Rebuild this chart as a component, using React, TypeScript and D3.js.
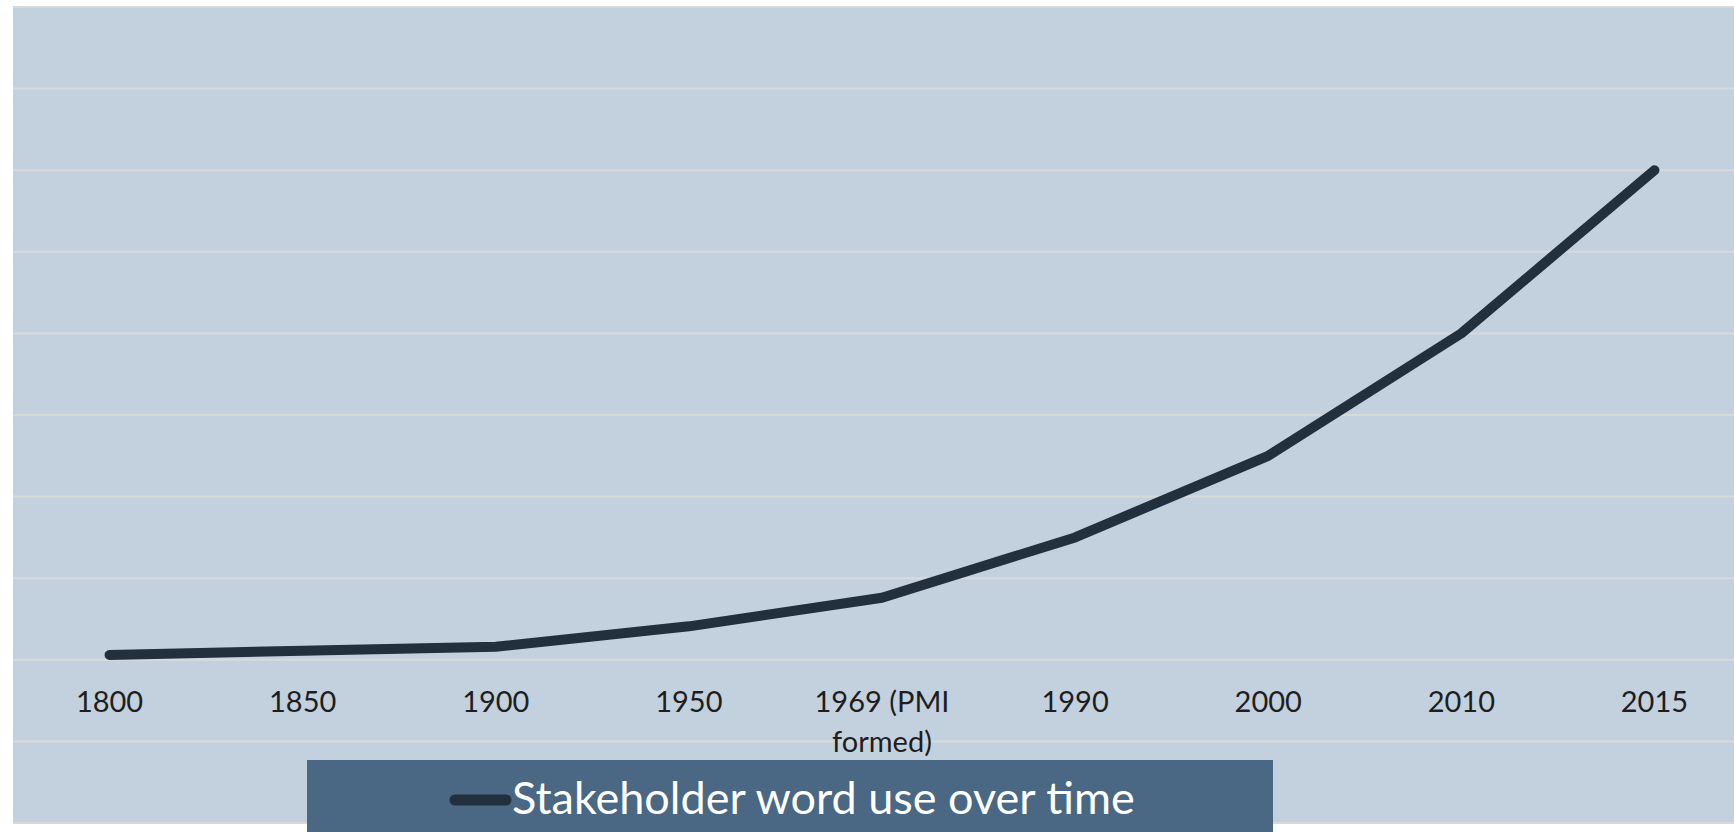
import React, { useEffect, useRef } from 'react';
import * as d3 from 'd3';

// categories on the x axis (one label is split on two lines)
const years = ['1800', '1850', '1900', '1950', '1969 (PMI formed)', '1990', '2000', '2010', '2015'];
const labelLines = [['1800'], ['1850'], ['1900'], ['1950'], ['1969 (PMI', 'formed)'], ['1990'], ['2000'], ['2010'], ['2015']];
// word use in gridline units
const wordUse = [0.06, 0.11, 0.16, 0.41, 0.76, 1.5, 2.5, 4.0, 6.0];
const gridValues = [-2, -1, 0, 1, 2, 3, 4, 5, 6, 7, 8];
const seriesName = 'Stakeholder word use over time';

export default function App() {
  const ref = useRef<SVGSVGElement>(null);

  useEffect(() => {
    const width = 1734,
      height = 832;
    const svg = d3.select(ref.current);
    svg.selectAll('*').remove();

    const x = d3.scaleBand().domain(years).range([13, 1751]).padding(0);
    const y = d3.scaleLinear().domain([-2, 8]).range([823, 7]);

    // chart background
    svg.append('rect')
      .attr('x', 13)
      .attr('y', y(8))
      .attr('width', width - 13)
      .attr('height', y(-2) - y(8))
      .attr('fill', '#c3d1de');

    // gridlines
    svg.selectAll('line.grid')
      .data(gridValues)
      .enter()
      .append('line')
      .attr('class', 'grid')
      .attr('x1', 13)
      .attr('x2', width)
      .attr('y1', (d) => y(d))
      .attr('y2', (d) => y(d))
      .attr('stroke', '#d9d9d9')
      .attr('stroke-width', 2);

    // category labels
    const lab = svg.append('g')
      .attr('font-family', 'Lato, "Open Sans", sans-serif')
      .attr('font-size', 29)
      .attr('fill', '#1e1e1e')
      .attr('text-anchor', 'middle');
    years.forEach((yr, i) => {
      const t = lab.append('text')
        .attr('x', (x(yr) as number) + x.bandwidth() / 2)
        .attr('y', 712);
      labelLines[i].forEach((ln, j) => {
        t.append('tspan')
          .attr('x', (x(yr) as number) + x.bandwidth() / 2)
          .attr('dy', j === 0 ? 0 : 40)
          .text(ln);
      });
    });

    // the series line
    const line = d3.line<number>()
      .x((d, i) => (x(years[i]) as number) + x.bandwidth() / 2)
      .y((d) => y(d));
    svg.append('path')
      .datum(wordUse)
      .attr('d', line)
      .attr('fill', 'none')
      .attr('stroke', '#222f3d')
      .attr('stroke-width', 10)
      .attr('stroke-linecap', 'round')
      .attr('stroke-linejoin', 'round');

    // legend
    const lg = svg.append('g');
    lg.append('rect')
      .attr('x', 307)
      .attr('y', 760)
      .attr('width', 1273 - 307)
      .attr('height', height - 760)
      .attr('fill', '#4a6784');
    lg.append('line')
      .attr('x1', 455)
      .attr('x2', 506)
      .attr('y1', 800)
      .attr('y2', 800)
      .attr('stroke', '#222f3d')
      .attr('stroke-width', 11)
      .attr('stroke-linecap', 'round');
    lg.append('text')
      .attr('x', 512)
      .attr('y', 814)
      .attr('font-family', 'Lato, "Open Sans", sans-serif')
      .attr('font-size', 45)
      .attr('fill', '#ffffff')
      .text(seriesName);
  }, []);

  return (
    <svg
      ref={ref}
      width={1734}
      height={832}
      style={{ position: 'absolute', left: 0, top: 0, display: 'block' }}
    />
  );
}
